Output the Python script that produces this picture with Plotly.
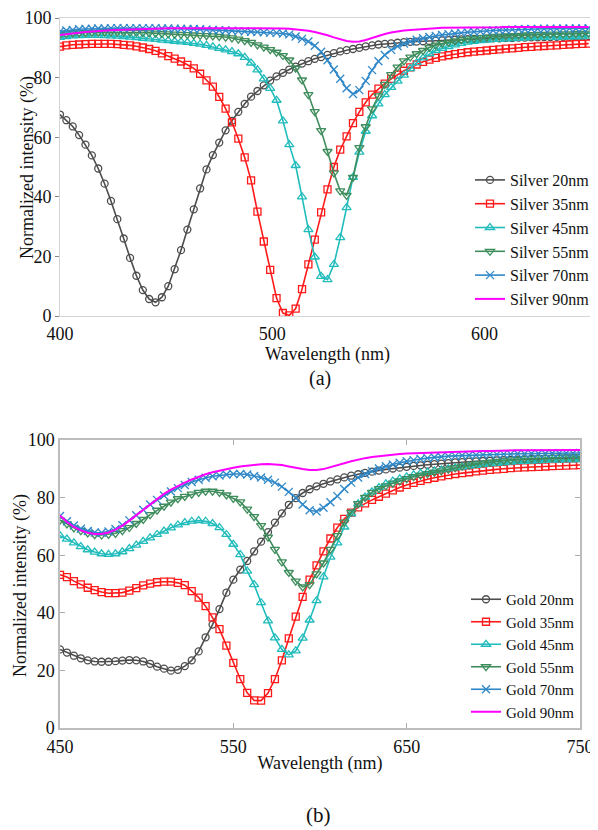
import plotly.graph_objects as go

# ---------------- (a) Silver ----------------
wl_silver = [400, 403, 406, 409, 412, 415, 418, 421, 424, 427,
             430, 433, 436, 439, 442, 445, 448, 451, 454, 457,
             460, 463, 466, 469, 472, 475, 478, 481, 484, 487,
             490, 493, 496, 499, 502, 505, 508, 511, 514, 517,
             520, 523, 526, 529, 532, 535, 538, 541, 544, 547,
             550, 553, 556, 559, 562, 565, 568, 571, 574, 577,
             580, 583, 586, 589, 592, 595, 598, 601, 604, 607,
             610, 613, 616, 619, 622, 625, 628, 631, 634, 637,
             640, 643, 646, 649]

silver_20 = [67.6, 65.7, 63.6, 60.7, 57.5, 53.9, 49.5, 44.4, 38.6, 32.5,
             26.0, 19.5, 13.5, 8.7, 5.7, 4.6, 6.3, 10.0, 15.7, 22.1,
             29.0, 35.8, 42.8, 49.2, 54.0, 58.2, 62.3, 65.5, 68.5, 71.2,
             73.6, 75.5, 77.4, 79.0, 80.4, 81.6, 82.7, 83.7, 84.7, 85.5,
             86.3, 86.9, 87.6, 88.2, 88.8, 89.2, 89.6, 90.0, 90.5, 90.8,
             91.1, 91.3, 91.5, 91.7, 91.9, 92.0, 92.1, 92.2, 92.3, 92.4,
             92.5, 92.6, 92.7, 92.8, 92.9, 93.0, 93.0, 93.1, 93.2, 93.2,
             93.3, 93.3, 93.4, 93.4, 93.5, 93.5, 93.6, 93.6, 93.7, 93.7,
             93.7, 93.8, 93.8, 93.9]

silver_35 = [90.4, 90.8, 91.0, 91.1, 91.2, 91.3, 91.3, 91.3, 91.3, 91.2,
             91.0, 90.8, 90.5, 90.1, 89.6, 89.0, 88.1, 87.2, 86.4, 85.4,
             84.3, 83.1, 81.3, 79.1, 77.0, 73.5, 69.6, 65.0, 59.5, 53.2,
             45.5, 35.0, 25.0, 15.5, 6.0, 1.0, 0.2, 2.5, 9.0, 17.3,
             25.6, 34.8, 42.5, 50.0, 55.8, 60.3, 64.7, 68.5, 71.7, 74.3,
             76.3, 78.0, 79.6, 81.0, 82.3, 83.4, 84.4, 85.3, 86.0, 86.6,
             87.1, 87.5, 87.9, 88.2, 88.5, 88.7, 88.9, 89.1, 89.3, 89.5,
             89.7, 89.8, 90.0, 90.2, 90.3, 90.5, 90.6, 90.7, 90.8, 91.0,
             91.1, 91.2, 91.3, 91.4]

silver_45 = [93.5, 93.8, 94.0, 94.1, 94.2, 94.2, 94.2, 94.1, 94.0, 93.9,
             93.8, 93.6, 93.4, 93.2, 93.0, 92.8, 92.6, 92.4, 92.2, 92.0,
             91.8, 91.5, 91.2, 90.8, 90.3, 89.8, 89.3, 88.7, 88.0, 86.8,
             84.9, 82.6, 79.6, 76.4, 72.4, 65.5, 57.5, 50.5, 40.0, 29.0,
             19.8, 13.3, 12.2, 17.3, 26.3, 36.4, 46.5, 55.0, 62.0, 67.2,
             71.2, 74.3, 76.7, 78.8, 80.8, 83.0, 85.0, 86.6, 88.0, 89.1,
             89.8, 90.4, 91.0, 91.5, 91.9, 92.2, 92.4, 92.6, 92.8, 92.9,
             93.0, 93.1, 93.2, 93.3, 93.4, 93.5, 93.5, 93.6, 93.6, 93.7,
             93.7, 93.8, 93.8, 93.9]

silver_55 = [94.5, 94.7, 94.9, 95.0, 95.1, 95.2, 95.2, 95.3, 95.3, 95.3,
             95.3, 95.2, 95.2, 95.1, 95.0, 94.9, 94.8, 94.7, 94.6, 94.5,
             94.4, 94.3, 94.2, 94.1, 94.0, 93.8, 93.6, 93.3, 92.9, 92.4,
             91.8, 91.0, 90.2, 89.4, 88.5, 87.4, 85.9, 83.2, 79.2, 74.3,
             68.6, 62.2, 55.2, 48.0, 42.0, 40.5, 46.5, 56.5, 63.5, 69.5,
             73.9, 77.7, 81.0, 83.5, 85.6, 86.9, 88.0, 89.1, 90.1, 90.9,
             91.5, 91.9, 92.3, 92.7, 93.0, 93.2, 93.4, 93.6, 93.8, 93.9,
             94.0, 94.1, 94.2, 94.3, 94.4, 94.5, 94.5, 94.6, 94.6, 94.7,
             94.7, 94.8, 94.8, 94.9]

silver_70 = [95.5, 95.8, 96.0, 96.2, 96.3, 96.4, 96.5, 96.5, 96.6, 96.6,
             96.6, 96.6, 96.6, 96.6, 96.6, 96.6, 96.5, 96.5, 96.4, 96.4,
             96.3, 96.3, 96.2, 96.1, 96.0, 95.9, 95.8, 95.7, 95.6, 95.5,
             95.4, 95.3, 95.2, 95.1, 95.0, 94.8, 94.5, 93.8, 93.0, 92.1,
             90.7, 88.7, 85.8, 82.7, 79.6, 76.4, 74.5, 75.8, 78.9, 82.5,
             85.5, 87.6, 89.3, 90.5, 91.4, 92.1, 92.7, 93.2, 93.6, 94.0,
             94.3, 94.6, 94.8, 95.0, 95.2, 95.4, 95.5, 95.7, 95.8, 95.9,
             96.0, 96.1, 96.2, 96.2, 96.3, 96.3, 96.4, 96.4, 96.4, 96.5,
             96.5, 96.5, 96.5, 96.6]

silver_90 = [94.3, 94.6, 94.9, 95.1, 95.3, 95.5, 95.7, 95.8, 95.9, 96.0,
             96.1, 96.2, 96.3, 96.4, 96.4, 96.5, 96.5, 96.6, 96.6, 96.6,
             96.7, 96.7, 96.7, 96.7, 96.7, 96.7, 96.7, 96.7, 96.7, 96.7,
             96.7, 96.6, 96.6, 96.6, 96.5, 96.5, 96.4, 96.2, 96.0, 95.7,
             95.3, 94.8, 94.2, 93.5, 92.8, 92.3, 92.0, 92.1, 92.6, 93.3,
             94.0, 94.6, 95.1, 95.5, 95.8, 96.0, 96.2, 96.4, 96.5, 96.6,
             96.7, 96.7, 96.8, 96.8, 96.8, 96.9, 96.9, 96.9, 96.9, 96.9,
             97.0, 97.0, 97.0, 97.0, 97.0, 97.0, 97.0, 97.0, 97.0, 97.0,
             97.0, 97.0, 97.0, 97.0]

# ---------------- (b) Gold ----------------
wl_gold = [450, 454, 458, 462, 466, 470, 474, 478, 482, 486,
           490, 494, 498, 502, 506, 510, 514, 518, 522, 526,
           530, 534, 538, 542, 546, 550, 554, 558, 562, 566,
           570, 574, 578, 582, 586, 590, 594, 598, 602, 606,
           610, 614, 618, 622, 626, 630, 634, 638, 642, 646,
           650, 654, 658, 662, 666, 670, 674, 678, 682, 686,
           690, 694, 698, 702, 706, 710, 714, 718, 722, 726,
           730, 734, 738, 742, 746, 750]

gold_20 = [27.3, 26.2, 25.1, 24.2, 23.5, 23.1, 23.0, 23.0, 23.2, 23.4,
           23.6, 23.5, 23.1, 22.3, 21.3, 20.6, 19.9, 20.2, 21.5, 23.5,
           26.6, 31.5, 35.9, 41.3, 47.0, 51.5, 55.0, 58.0, 61.3, 64.7,
           68.0, 71.3, 74.5, 77.5, 79.8, 81.6, 82.9, 83.9, 84.8, 85.6,
           86.3, 87.0, 87.6, 88.1, 88.6, 89.0, 89.4, 89.8, 90.1, 90.4,
           90.7, 91.0, 91.2, 91.4, 91.6, 91.8, 92.0, 92.2, 92.3, 92.5,
           92.6, 92.7, 92.8, 92.9, 93.0, 93.1, 93.2, 93.3, 93.4, 93.5,
           93.5, 93.6, 93.7, 93.7, 93.8, 93.8]

gold_35 = [53.2, 52.4, 51.0, 49.9, 48.7, 47.9, 47.2, 46.8, 46.8, 47.0,
           47.7, 48.6, 49.5, 50.1, 50.6, 50.8, 50.8, 50.4, 49.6, 47.5,
           45.3, 42.3, 38.4, 34.3, 28.6, 22.6, 17.0, 12.2, 9.6, 9.5,
           12.1, 17.0, 23.5, 31.1, 38.7, 45.5, 51.5, 56.5, 61.3, 65.8,
           69.6, 72.6, 74.8, 76.6, 78.0, 79.2, 80.3, 81.4, 82.5, 83.5,
           84.4, 85.1, 85.8, 86.4, 86.9, 87.4, 87.8, 88.2, 88.5, 88.8,
           89.1, 89.4, 89.6, 89.8, 90.0, 90.2, 90.4, 90.5, 90.6, 90.7,
           90.8, 90.9, 91.0, 91.1, 91.2, 91.3]

gold_45 = [66.8, 65.6, 64.3, 63.0, 61.9, 61.1, 60.5, 60.3, 60.5, 61.2,
           62.3, 63.5, 64.8, 66.0, 67.2, 68.4, 69.5, 70.5, 71.3, 71.8,
           72.0, 71.8, 71.0, 69.6, 67.2, 63.8, 60.2, 54.5, 49.8, 43.5,
           37.2, 31.3, 27.3, 25.4, 26.8, 31.2, 37.5, 44.2, 52.5, 59.3,
           64.3, 69.8, 74.4, 77.8, 80.2, 82.0, 83.5, 84.8, 85.7, 86.5,
           87.2, 87.9, 88.4, 88.8, 89.2, 89.6, 90.0, 90.3, 90.6, 90.9,
           91.2, 91.5, 91.7, 91.9, 92.1, 92.3, 92.5, 92.6, 92.7, 92.8,
           92.9, 93.0, 93.0, 93.1, 93.1, 93.2]

gold_55 = [72.2, 70.9, 69.5, 68.5, 67.7, 67.1, 67.0, 67.2, 67.6, 68.5,
           69.6, 71.0, 72.4, 74.1, 75.6, 77.0, 78.4, 79.6, 80.4, 81.2,
           81.8, 82.2, 82.2, 81.8, 80.9, 79.7, 78.5, 76.0, 73.4, 70.3,
           66.3, 62.0, 57.7, 54.0, 51.0, 49.0, 49.8, 53.5, 57.3, 62.0,
           66.8, 71.5, 74.9, 77.9, 80.1, 81.8, 83.1, 84.1, 85.0, 85.8,
           86.6, 87.3, 87.8, 88.3, 88.8, 89.3, 89.9, 90.4, 90.9, 91.3,
           91.7, 92.0, 92.3, 92.6, 92.9, 93.1, 93.3, 93.5, 93.6, 93.8,
           93.9, 94.0, 94.0, 94.1, 94.1, 94.2]

gold_70 = [73.6, 71.8, 70.3, 69.2, 68.4, 67.9, 67.8, 68.2, 69.1, 70.4,
           72.1, 73.9, 75.8, 77.6, 79.2, 80.7, 82.1, 83.3, 84.4, 85.4,
           86.2, 86.9, 87.4, 87.7, 88.0, 88.2, 88.2, 88.0, 87.5, 87.0,
           86.2, 85.2, 83.8, 82.0, 80.0, 77.6, 75.6, 75.2, 76.5, 78.4,
           80.5, 83.0, 85.2, 87.0, 88.2, 89.2, 90.1, 90.9, 91.5, 92.1,
           92.6, 93.0, 93.4, 93.7, 94.0, 94.2, 94.4, 94.5, 94.6, 94.7,
           94.8, 94.9, 95.0, 95.0, 95.1, 95.1, 95.2, 95.2, 95.3, 95.3,
           95.3, 95.4, 95.4, 95.4, 95.4, 95.5]

gold_90 = [73.8, 71.5, 69.8, 68.6, 67.8, 67.4, 67.4, 67.9, 68.9, 70.3,
           72.0, 73.9, 75.9, 77.8, 79.6, 81.3, 82.8, 84.1, 85.2, 86.3,
           87.3, 88.1, 88.8, 89.4, 89.9, 90.4, 90.8, 91.1, 91.4, 91.6,
           91.7, 91.6, 91.3, 90.8, 90.3, 89.9, 89.6, 89.6, 89.9, 90.5,
           91.2, 91.9, 92.6, 93.2, 93.7, 94.1, 94.4, 94.7, 94.9, 95.1,
           95.3, 95.4, 95.5, 95.6, 95.7, 95.8, 95.9, 96.0, 96.0, 96.1,
           96.1, 96.2, 96.2, 96.3, 96.3, 96.3, 96.4, 96.4, 96.4, 96.4,
           96.5, 96.5, 96.5, 96.5, 96.5, 96.5]

thickness_labels = ["20nm", "35nm", "45nm", "55nm", "70nm", "90nm"]
silver_series = [silver_20, silver_35, silver_45, silver_55, silver_70, silver_90]
gold_series = [gold_20, gold_35, gold_45, gold_55, gold_70, gold_90]

colors = ["#4d4d4d", "#ff1a1a", "#22bcbc", "#3f8d5c", "#2f88c8", "#ff00ff"]
symbols = ["circle-open", "square-open", "triangle-up-open", "triangle-down-open", "x-thin-open", None]
msizes = [7, 7, 8, 8, 8, 0]

SERIF = "Liberation Serif"

fig = go.Figure()


def add_group(wl, series, prefix, xaxis, yaxis, legend):
    for lab, ys, col, sym, ms in zip(thickness_labels, series, colors, symbols, msizes):
        if sym is None:
            mode = "lines"
            marker = None
        else:
            mode = "lines+markers"
            marker = dict(symbol=sym, size=ms, color=col,
                          line=dict(color=col, width=1.3))
        fig.add_trace(go.Scatter(
            x=wl, y=ys, name=f"{prefix} {lab}", mode=mode,
            line=dict(color=col, width=1.6 if sym else 2.0),
            marker=marker, xaxis=xaxis, yaxis=yaxis, legend=legend,
        ))


add_group(wl_silver, silver_series, "Silver", "x", "y", "legend")
add_group(wl_gold, gold_series, "Gold", "x2", "y2", "legend2")

# empty helper trace for the right-hand inner ticks of panel (a)
fig.add_trace(go.Scatter(x=[None], y=[None], xaxis="x", yaxis="y3",
                         showlegend=False, hoverinfo="skip"))

# the page body has an 8px margin: lay out in page pixels, offset by it
OX, OY = 8, 8
W, H = 590, 822


def px(xp):
    return (xp - OX) / W


def py(yp):
    return 1 - (yp - OY) / H


tickfont = dict(family=SERIF, size=18, color="#111")
titlefont = dict(family=SERIF, size=18, color="#111")

fig.update_layout(
    width=W, height=H,
    margin=dict(l=0, r=0, t=0, b=0, autoexpand=False),
    paper_bgcolor="white", plot_bgcolor="white",
    font=dict(family=SERIF),
    xaxis=dict(domain=[px(60), px(595)], anchor="y", range=[400, 652], automargin=False,
               tickvals=[400, 500, 600], ticks="", showgrid=False, zeroline=False,
               showline=True, mirror=True, linecolor="#d4d4d4", linewidth=1,
               tickfont=tickfont, ticklabelstandoff=1,
               title=dict(text="Wavelength (nm)", font=titlefont, standoff=0)),
    yaxis=dict(domain=[py(316), py(18)], anchor="x", range=[0, 100], automargin=False,
               tickvals=[0, 20, 40, 60, 80, 100], ticks="outside", ticklen=4,
               tickcolor="#888", showgrid=False, zeroline=False,
               showline=True, mirror=True, linecolor="#d4d4d4", linewidth=1,
               tickfont=tickfont),
    yaxis3=dict(overlaying="y", side="right", anchor="x", range=[0, 100], automargin=False,
                tickvals=[20, 40, 60, 80], ticks="inside", ticklen=4, tickcolor="#999",
                showticklabels=False, showgrid=False, zeroline=False, showline=False),
    xaxis2=dict(domain=[px(60), px(580)], anchor="y2", range=[450, 750], automargin=False,
                tickvals=[450, 550, 650, 750], ticks="inside", ticklen=5,
                tickcolor="#aaa", showgrid=False, zeroline=False,
                showline=True, mirror="ticks", linecolor="#bdbdbd", linewidth=1.5,
                tickfont=tickfont, ticklabelstandoff=2,
                title=dict(text="Wavelength (nm)", font=titlefont, standoff=0)),
    yaxis2=dict(domain=[py(728), py(440)], anchor="x2", range=[0, 100], automargin=False,
                tickvals=[0, 20, 40, 60, 80, 100], ticks="inside", ticklen=5,
                tickcolor="#aaa", showgrid=False, zeroline=False,
                showline=True, mirror="ticks", linecolor="#bdbdbd", linewidth=1.5,
                tickfont=tickfont),
    legend=dict(x=px(595), xanchor="right", y=py(316), yanchor="bottom",
                bgcolor="white", borderwidth=0, tracegroupgap=0,
                font=dict(family=SERIF, size=16, color="#111")),
    legend2=dict(x=px(580), xanchor="right", y=py(728), yanchor="bottom",
                 bgcolor="white", borderwidth=0, tracegroupgap=0,
                 font=dict(family=SERIF, size=15, color="#111")),
    annotations=[
        dict(text="Normalized intensity (%)", textangle=-90, x=px(27), y=py(168),
             xanchor="center", yanchor="middle",
             xref="paper", yref="paper", showarrow=False, font=titlefont),
        dict(text="Normalized intensity (%)", textangle=-90, x=px(20), y=py(586),
             xanchor="center", yanchor="middle",
             xref="paper", yref="paper", showarrow=False, font=titlefont),
        dict(text="(a)", x=px(320), y=py(378), xanchor="center", yanchor="middle",
             xref="paper", yref="paper",
             showarrow=False, font=dict(family=SERIF, size=20, color="#111")),
        dict(text="(b)", x=px(318), y=py(815), xanchor="center", yanchor="middle",
             xref="paper", yref="paper",
             showarrow=False, font=dict(family=SERIF, size=21, color="#111")),
    ],
)

fig.write_html("out.html")
